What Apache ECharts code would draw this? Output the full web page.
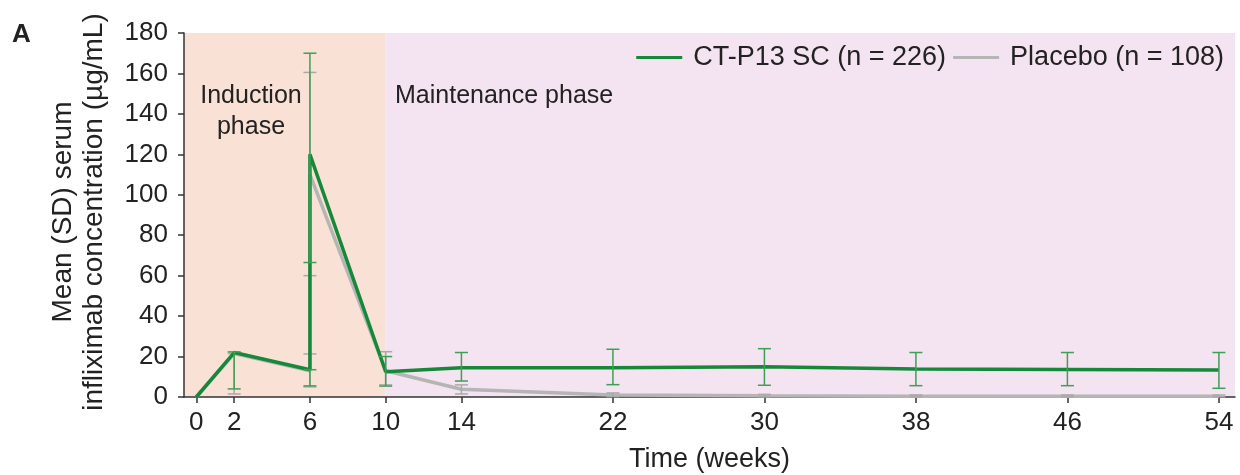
<!DOCTYPE html>
<html>
<head>
<meta charset="utf-8">
<script src="https://cdn.jsdelivr.net/npm/echarts@6/dist/echarts.min.js"></script>
<style>html,body{margin:0;padding:0;background:#fff}#c{width:1240px;height:475px}</style>
</head>
<body>
<div id="c"></div>
<script>
// ---- data ----
const xTickValues = [0, 2, 6, 10, 14, 22, 30, 38, 46, 54];
const yTickValues = [0, 20, 40, 60, 80, 100, 120, 140, 160, 180];
// weeks (6 appears twice: pre-dose and post-dose)
const weeks = [0, 2, 6, 6, 10, 14, 22, 30, 38, 46, 54];
const ctp13Mean = [0, 22, 13.5, 120, 12.5, 14.5, 14.5, 15, 13.8, 13.6, 13.3];
const ctp13Low  = [0, 4, 5.5, 66.5, 5.4, 7.9, 6.1, 5.8, 5.6, 5.6, 4.3];
const ctp13High = [0, 22.3, 13.5, 170, 20, 22, 23.6, 23.9, 22, 22, 22];
const placeboMean = [0, 21.5, 13, 110, 13, 3.8, 1, 0.6, 0.4, 0.4, 0.4];
const placeboLow  = [0, 1.5, 5, 60, 6, 1.5, 0.2, 0.1, 0.1, 0.1, 0.1];
const placeboHigh = [0, 21.5, 21.3, 160.5, 22.4, 6, 2, 1.3, 1, 1, 1];
const seriesNames = ['CT-P13 SC (n = 226)', 'Placebo (n = 108)'];
const phaseLabels = ['Induction\nphase', 'Maintenance phase'];
const phaseBreak = 10;

const GREEN = '#16883a', GREEN_ERR = '#3f9f55', GRAY = '#b5b5b5', GRAY_ERR = '#a9a9a9';
const BAND_COLORS = ['#f9e1d6', '#f4e3f0'];
const FONT = 'Liberation Sans, Arial, sans-serif';
const TXT = '#222';

const xMin = -0.65, xMax = 54.85, yMax = 180;
const bandStarts = [xMin, phaseBreak];
const bandEnds = [phaseBreak, xMax];

function pts(xs, ys) { return xs.map((x, i) => [x, ys[i]]); }
function errData(xs, lo, hi) { return xs.map((x, i) => [x, lo[i], hi[i]]); }
function errRender(color) {
  return function (params, api) {
    const x = api.value(0), lo = api.value(1), hi = api.value(2);
    if (hi - lo <= 0) return null;
    const p1 = api.coord([x, lo]), p2 = api.coord([x, hi]);
    const w = 6.5;
    const style = { stroke: color, lineWidth: 1.5 };
    return { type: 'group', children: [
      { type: 'line', shape: { x1: p1[0], y1: p1[1], x2: p2[0], y2: p2[1] }, style },
      { type: 'line', shape: { x1: p1[0] - w, y1: p1[1], x2: p1[0] + w, y2: p1[1] }, style },
      { type: 'line', shape: { x1: p2[0] - w, y1: p2[1], x2: p2[0] + w, y2: p2[1] }, style }
    ]};
  };
}
function bandRender(params, api) {
  const a = api.coord([api.value(0), yMax]);
  const b = api.coord([api.value(1), 0]);
  return { type: 'rect', shape: { x: a[0], y: a[1], width: b[0] - a[0], height: b[1] - a[1] },
           style: { fill: BAND_COLORS[params.dataIndex] } };
}

const chart = echarts.init(document.getElementById('c'), null, { renderer: 'canvas' });
chart.setOption({
  animation: false,
  textStyle: { fontFamily: FONT },
  grid: { left: 184, right: 5, top: 33, bottom: 78, containLabel: false, outerBoundsMode: 'none' },
  legend: {
    right: 11, top: 39, itemGap: 7, itemWidth: 46, itemHeight: 3,
    textStyle: { fontSize: 27, color: TXT, fontFamily: FONT, padding: [0, 0, 0, 6] },
    data: [
      { name: seriesNames[0], icon: 'rect', itemStyle: { color: GREEN } },
      { name: seriesNames[1], icon: 'rect', itemStyle: { color: GRAY } }
    ]
  },
  xAxis: {
    type: 'value', min: xMin, max: xMax,
    name: 'Time (weeks)', nameLocation: 'middle', nameGap: 49,
    nameTextStyle: { fontSize: 27, color: TXT, fontFamily: FONT },
    axisLine: { onZero: false, lineStyle: { color: '#333', width: 1.5 } },
    axisTick: { show: true, length: 6, lineStyle: { color: '#333', width: 1.5 }, customValues: xTickValues },
    axisLabel: { fontSize: 26, color: TXT, margin: 13, customValues: xTickValues, fontFamily: FONT },
    splitLine: { show: false }
  },
  yAxis: {
    type: 'value', min: 0, max: yMax, interval: 20,
    axisLine: { show: true, onZero: false, lineStyle: { color: '#333', width: 1.5 } },
    axisTick: { show: true, length: 6, lineStyle: { color: '#333', width: 1.5 } },
    axisLabel: { fontSize: 26, color: TXT, margin: 16, fontFamily: FONT },
    splitLine: { show: false }
  },
  graphic: [
    { type: 'text', left: 12, top: 22, z: 10, style: { text: 'A', font: 'bold 26px ' + FONT, fill: TXT } },
    { type: 'text', x: 63, y: 212, rotation: Math.PI / 2,
      style: { text: 'Mean (SD) serum', font: '28px ' + FONT, fill: TXT, align: 'center', verticalAlign: 'middle' } },
    { type: 'text', x: 94, y: 212, rotation: Math.PI / 2,
      style: { text: 'infliximab concentration (µg/mL)', font: '28px ' + FONT, fill: TXT, align: 'center', verticalAlign: 'middle' } },
    { type: 'text', x: 251, y: 112, z: 10,
      style: { text: phaseLabels[0], font: '25px ' + FONT, fill: TXT, align: 'center', verticalAlign: 'middle', lineHeight: 31 } },
    { type: 'text', x: 395, y: 96, z: 10,
      style: { text: phaseLabels[1], font: '25px ' + FONT, fill: TXT, align: 'left', verticalAlign: 'middle' } }
  ],
  series: [
    {
      name: '__bands', type: 'custom', silent: true, z: 0,
      data: bandStarts.map((s, i) => [s, bandEnds[i]]),
      encode: { x: [0, 1] },
      renderItem: bandRender
    },
    {
      name: seriesNames[1], type: 'line', data: pts(weeks, placeboMean), showSymbol: false, symbol: 'none',
      lineStyle: { color: GRAY, width: 3.5 }, itemStyle: { color: GRAY }, z: 2
    },
    {
      name: seriesNames[1] + ' SD', type: 'custom', data: errData(weeks, placeboLow, placeboHigh),
      renderItem: errRender(GRAY_ERR), z: 3, silent: true
    },
    {
      name: seriesNames[0], type: 'line', data: pts(weeks, ctp13Mean), showSymbol: false, symbol: 'none',
      lineStyle: { color: GREEN, width: 3.5 }, itemStyle: { color: GREEN }, z: 4
    },
    {
      name: seriesNames[0] + ' SD', type: 'custom', data: errData(weeks, ctp13Low, ctp13High),
      renderItem: errRender(GREEN_ERR), z: 5, silent: true
    }
  ]
});
</script>
</body>
</html>
